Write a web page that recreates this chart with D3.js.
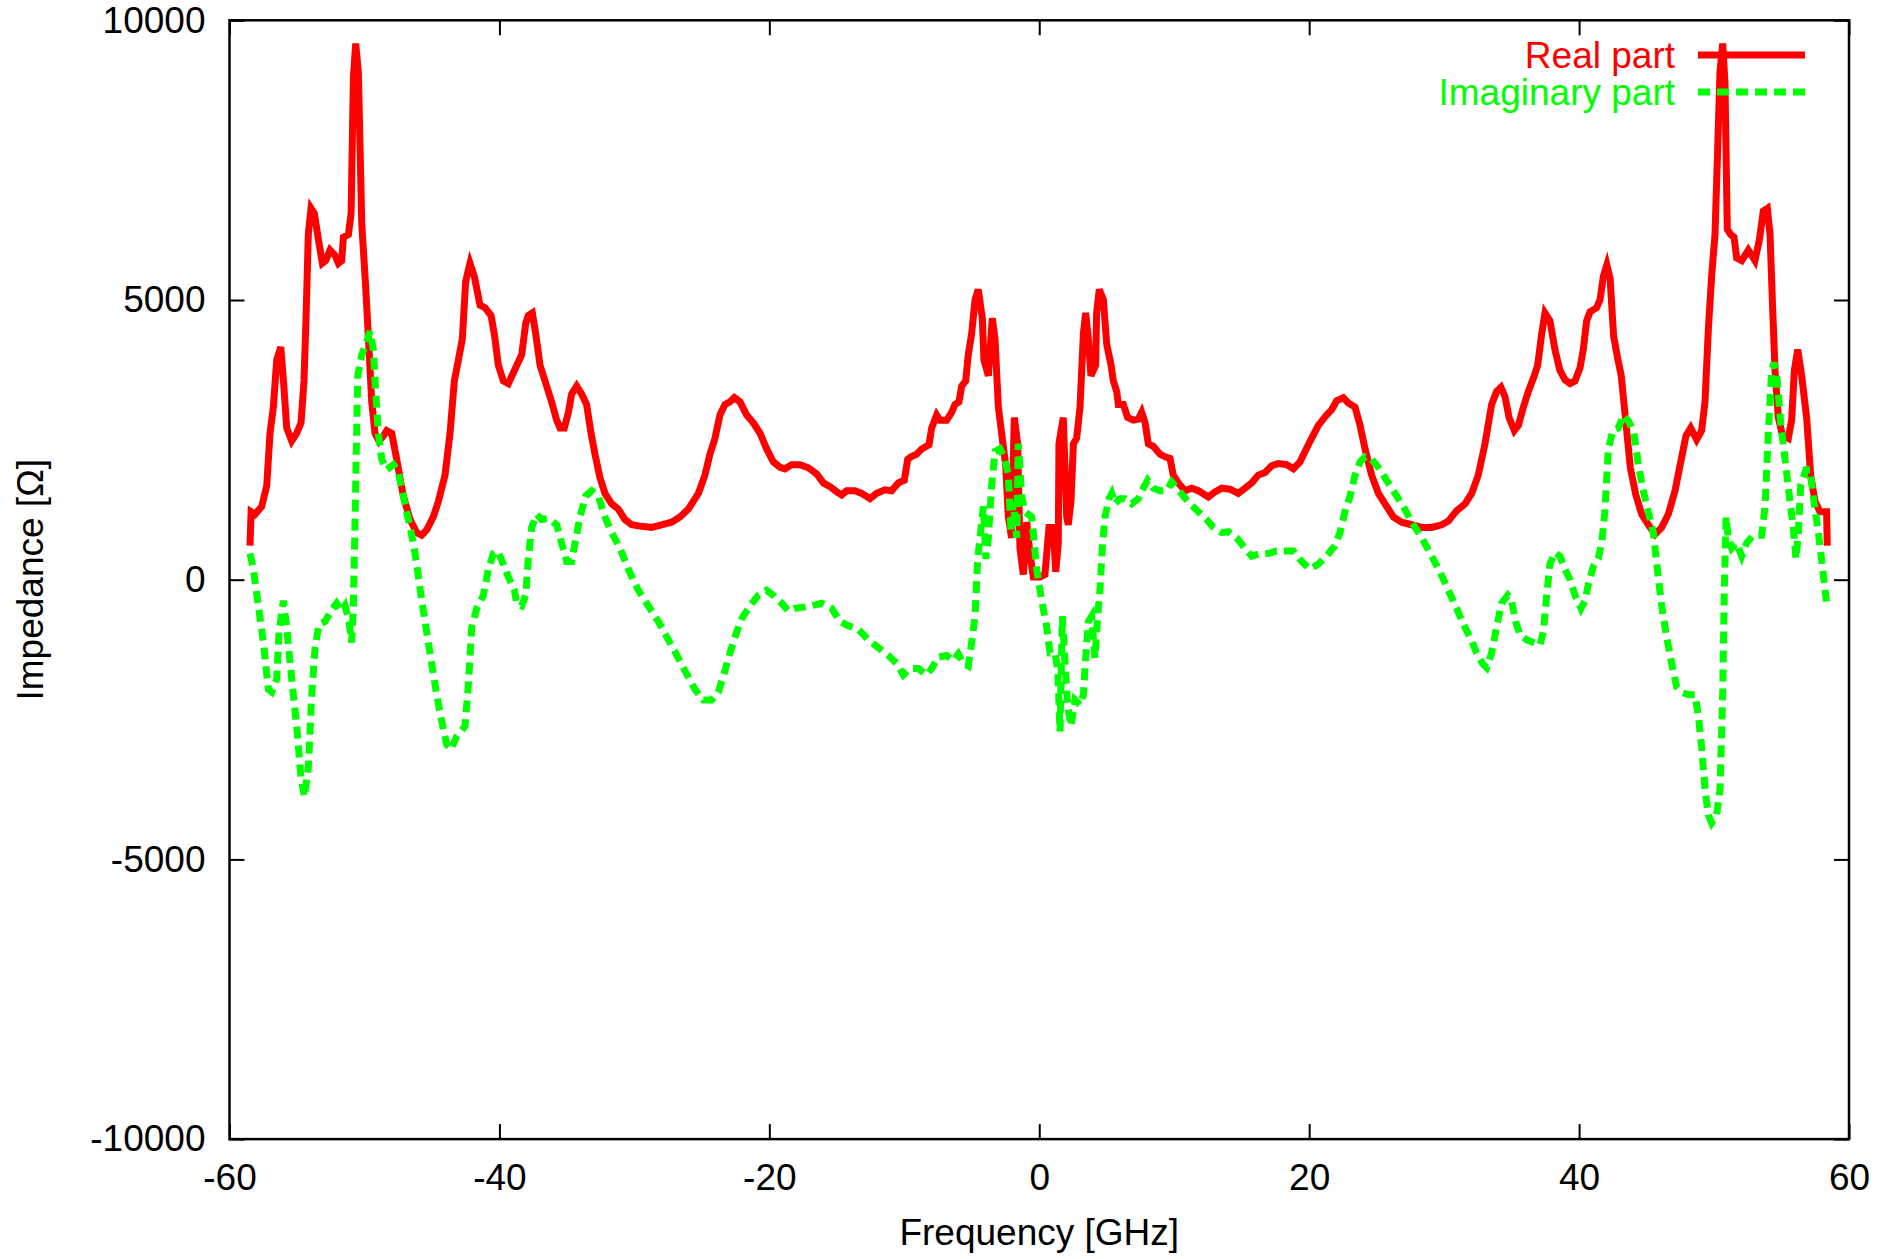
<!DOCTYPE html>
<html>
<head>
<meta charset="utf-8">
<script src="https://cdn.jsdelivr.net/npm/d3@7"></script>
<style>
  html, body { margin: 0; padding: 0; background: #fff; }
  svg text { font-family: "Liberation Sans", Arial, Helvetica, sans-serif; }
</style>
</head>
<body>
<svg id="chart" width="1896" height="1259"></svg>
<script>
// values: [frequency GHz, impedance Ohm]
var realPart = [
  [-58.48, 608], [-58.4, 1215], [-58.11, 1169], [-57.61, 1309], [-57.24, 1683], [-57.0, 2618],
  [-56.75, 3086], [-56.5, 3927], [-56.2, 4161], [-56.0, 3553], [-55.76, 2711], [-55.39, 2478],
  [-55.02, 2618], [-54.7, 2805], [-54.48, 3553], [-54.33, 4675], [-54.16, 6171], [-53.96, 6639],
  [-53.71, 6545], [-53.41, 6078], [-53.12, 5657], [-52.87, 5704], [-52.55, 5891], [-52.18, 5797],
  [-51.93, 5657], [-51.69, 5704], [-51.56, 6124], [-51.19, 6171], [-50.99, 6545], [-50.82, 8976],
  [-50.65, 9584], [-50.45, 9070], [-50.2, 6358], [-49.91, 5236], [-49.66, 4114], [-49.46, 3179],
  [-49.22, 2618], [-48.92, 2478], [-48.6, 2571], [-48.35, 2665], [-47.98, 2618], [-47.61, 2150],
  [-47.12, 1496], [-46.62, 1075], [-46.13, 842], [-45.76, 795], [-45.39, 888], [-44.9, 1122],
  [-44.52, 1403], [-44.03, 1870], [-43.66, 2618], [-43.34, 3553], [-43.04, 3927], [-42.75, 4301],
  [-42.5, 5330], [-42.18, 5657], [-41.86, 5423], [-41.44, 4909], [-41.07, 4862], [-40.62, 4722],
  [-40.38, 4395], [-40.08, 3834], [-39.71, 3553], [-39.34, 3506], [-38.89, 3740], [-38.35, 4021],
  [-38.05, 4582], [-37.86, 4722], [-37.56, 4769], [-37.31, 4395], [-36.99, 3834], [-36.62, 3553],
  [-36.13, 3179], [-35.76, 2852], [-35.51, 2712], [-35.19, 2712], [-34.89, 2992], [-34.65, 3319],
  [-34.28, 3460], [-33.91, 3319], [-33.54, 3132], [-33.21, 2618], [-32.92, 2244], [-32.55, 1823],
  [-32.18, 1543], [-31.68, 1356], [-31.19, 1262], [-30.7, 1075], [-30.2, 982], [-29.46, 954],
  [-28.72, 935], [-27.98, 982], [-27.24, 1028], [-26.62, 1122], [-26.0, 1262], [-25.26, 1543],
  [-24.77, 1870], [-24.4, 2244], [-24.03, 2525], [-23.66, 2945], [-23.29, 3132], [-22.92, 3179],
  [-22.59, 3254], [-22.17, 3179], [-21.68, 2945], [-21.19, 2805], [-20.69, 2618], [-20.2, 2338],
  [-19.7, 2104], [-19.21, 2010], [-18.84, 1982], [-18.35, 2057], [-17.73, 2057], [-17.11, 2001],
  [-16.49, 1889], [-16.0, 1730], [-15.5, 1664], [-15.01, 1571], [-14.64, 1515], [-14.27, 1590],
  [-13.65, 1590], [-13.16, 1543], [-12.54, 1449], [-12.05, 1543], [-11.43, 1608], [-10.94, 1590],
  [-10.44, 1730], [-10.0, 1777], [-9.75, 2150], [-9.5, 2197], [-9.08, 2244], [-8.71, 2338],
  [-8.17, 2412], [-7.97, 2712], [-7.6, 2945], [-7.36, 2852], [-6.86, 2852], [-6.49, 2992],
  [-6.25, 3132], [-5.95, 3179], [-5.75, 3460], [-5.45, 3553], [-5.26, 4021], [-5.01, 4395],
  [-4.76, 5002], [-4.52, 5189], [-4.22, 4675], [-4.1, 3927], [-3.77, 3646], [-3.48, 4675],
  [-3.28, 4301], [-3.03, 3085], [-2.74, 2525], [-2.49, 2057], [-2.29, 1122], [-2.05, 748],
  [-1.85, 2899], [-1.6, 2431], [-1.43, 561], [-1.18, 94], [-0.93, 1028], [-0.69, 468],
  [-0.44, 47], [0.05, 47], [0.42, 94], [0.72, 935], [1.04, 935], [1.22, 140], [1.41, 654],
  [1.46, 2431], [1.78, 2899], [2.03, 1122], [2.15, 982], [2.35, 1403], [2.53, 2431], [2.77, 2525],
  [3.02, 3085], [3.27, 4395], [3.44, 4769], [3.64, 4301], [3.83, 3646], [4.18, 3834], [4.25, 4769],
  [4.45, 5189], [4.75, 5002], [5.0, 4208], [5.32, 3834], [5.49, 3553], [5.74, 3366], [5.86, 3132],
  [6.23, 3132], [6.55, 2899], [6.97, 2852], [7.34, 2870], [7.59, 2992], [7.84, 2805], [8.08, 2431],
  [8.45, 2384], [8.95, 2244], [9.32, 2197], [9.69, 2169], [9.93, 1870], [10.31, 1730], [10.8, 1590],
  [11.29, 1636], [11.79, 1590], [12.53, 1477], [13.02, 1571], [13.52, 1636], [14.13, 1618],
  [14.75, 1543], [15.24, 1636], [15.74, 1730], [16.23, 1870], [16.73, 1917], [17.22, 2038],
  [17.71, 2076], [18.33, 2057], [18.83, 1982], [19.32, 2104], [19.69, 2291], [20.18, 2525],
  [20.68, 2758], [21.29, 2945], [21.67, 3039], [22.04, 3198], [22.53, 3254], [22.9, 3160],
  [23.4, 3085], [23.77, 2758], [24.14, 2338], [24.63, 1870], [25.13, 1543], [25.62, 1356],
  [26.24, 1122], [26.85, 1028], [27.6, 982], [28.34, 935], [29.08, 935], [29.82, 982], [30.31, 1047],
  [30.93, 1234], [31.55, 1356], [32.04, 1543], [32.53, 1870], [33.03, 2431], [33.52, 3132],
  [33.89, 3366], [34.21, 3441], [34.51, 3272], [34.81, 2899], [35.2, 2665], [35.5, 2758],
  [35.87, 3085], [36.24, 3366], [36.68, 3646], [36.93, 3834], [37.23, 4395], [37.47, 4769],
  [37.84, 4628], [38.21, 4114], [38.58, 3740], [38.96, 3572], [39.33, 3506], [39.7, 3553],
  [40.07, 3787], [40.31, 4114], [40.56, 4628], [40.81, 4787], [41.3, 4862], [41.55, 5002],
  [41.8, 5423], [42.06, 5629], [42.3, 5380], [42.56, 4350], [42.85, 3970], [43.12, 3650],
  [43.45, 2850], [43.8, 2000], [44.2, 1520], [44.64, 1169], [45.13, 982], [45.63, 813],
  [46.12, 935], [46.61, 1169], [47.11, 1590], [47.53, 2104], [47.92, 2571], [48.27, 2712],
  [48.71, 2506], [49.08, 2665], [49.33, 3179], [49.58, 4488], [49.82, 5423], [50.07, 6171],
  [50.24, 7480], [50.44, 9070], [50.64, 9584], [50.81, 8883], [50.98, 6265], [51.23, 6171],
  [51.48, 6124], [51.68, 5750], [52.05, 5704], [52.54, 5891], [53.03, 5704], [53.36, 6078],
  [53.65, 6592], [53.95, 6639], [54.15, 6171], [54.34, 4862], [54.52, 3740], [54.76, 2899],
  [55.08, 2571], [55.5, 2525], [55.75, 2852], [55.95, 3740], [56.2, 4114], [56.49, 3646],
  [56.86, 2899], [57.16, 1870], [57.48, 1403], [57.85, 1215], [58.34, 1215], [58.39, 608]
];

var imagPart = [
  [-58.48, 467], [-58.23, 187], [-57.86, -467], [-57.49, -1122], [-57.12, -1963], [-56.87, -2010],
  [-56.5, -1777], [-56.33, -935], [-56.01, -374], [-55.76, -841], [-55.51, -1496], [-55.27, -2057],
  [-55.02, -2618], [-54.7, -3553], [-54.45, -3880], [-54.16, -3366], [-53.91, -2057], [-53.66, -1215],
  [-53.37, -795], [-52.92, -748], [-52.48, -561], [-52.06, -421], [-51.69, -561], [-51.44, -467],
  [-51.14, -748], [-50.95, -1122], [-50.82, -467], [-50.65, 1683], [-50.5, 3646], [-50.2, 4021],
  [-49.83, 4254], [-49.59, 4441], [-49.34, 4114], [-49.17, 3366], [-48.97, 2618], [-48.72, 2150],
  [-48.35, 1964], [-47.86, 2057], [-47.49, 1917], [-47.12, 1496], [-46.7, 1028], [-46.38, 654],
  [-46.13, 280], [-45.76, -374], [-45.39, -935], [-45.02, -1496], [-44.65, -2057], [-44.28, -2524],
  [-43.91, -2945], [-43.59, -3039], [-43.17, -2805], [-42.55, -2618], [-42.3, -1870], [-42.05, -841],
  [-41.68, -514], [-41.19, -280], [-40.82, 187], [-40.45, 467], [-40.13, 514], [-39.71, 280],
  [-39.34, 47], [-38.89, -187], [-38.72, -421], [-38.35, -467], [-38.05, -280], [-37.86, 374],
  [-37.61, 935], [-37.24, 1169], [-36.87, 1075], [-36.38, 1094], [-35.76, 982], [-35.39, 654],
  [-35.02, 327], [-34.65, 327], [-34.4, 654], [-34.03, 1122], [-33.61, 1496], [-33.16, 1589],
  [-32.67, 1496], [-32.18, 1122], [-31.68, 841], [-31.06, 561], [-30.45, 187], [-29.71, -187],
  [-28.97, -467], [-28.22, -748], [-27.48, -1075], [-26.74, -1402], [-26.13, -1683], [-25.51, -1963],
  [-24.89, -2150], [-24.27, -2150], [-23.78, -2010], [-23.41, -1730], [-22.92, -1309], [-22.42, -935],
  [-22.05, -701], [-21.43, -467], [-20.82, -280], [-20.2, -187], [-19.7, -280], [-19.09, -421],
  [-18.59, -561], [-18.15, -514], [-17.36, -486], [-16.62, -449], [-16.12, -421], [-15.38, -514],
  [-14.76, -748], [-14.15, -823], [-13.41, -888], [-12.66, -1075], [-11.92, -1215], [-11.18, -1356],
  [-10.57, -1496], [-10.07, -1702], [-9.58, -1589], [-8.96, -1589], [-8.34, -1702], [-7.97, -1589],
  [-7.48, -1384], [-6.86, -1356], [-6.37, -1449], [-6.0, -1328], [-5.63, -1496], [-5.26, -1543],
  [-5.01, -1122], [-4.76, -654], [-4.56, 374], [-4.39, 748], [-4.14, 1309], [-3.95, 374],
  [-3.77, 748], [-3.53, 1683], [-3.28, 2291], [-2.91, 2338], [-2.54, 2150], [-2.29, 1870],
  [-2.09, 841], [-1.92, 1402], [-1.67, 748], [-1.55, 2431], [-1.3, 1496], [-1.06, 1215],
  [-0.56, 1122], [-0.19, 187], [0.18, -374], [0.55, -841], [0.8, -1309], [1.17, -1309],
  [1.36, -1589], [1.54, -2711], [1.71, -654], [1.91, -1496], [2.1, -2244], [2.35, -2618],
  [2.5, -2400], [2.65, -2150], [3.02, -2244], [3.27, -2057], [3.44, -1402], [3.64, -748],
  [3.88, -654], [4.13, -1402], [4.33, -654], [4.5, -187], [4.67, 561], [4.87, 1122], [5.17, 1449],
  [5.37, 1543], [5.61, 1356], [5.98, 1449], [6.35, 1449], [6.85, 1356], [7.34, 1449], [7.71, 1636],
  [8.03, 1776], [8.45, 1636], [8.95, 1589], [9.44, 1589], [9.81, 1748], [10.18, 1636], [10.68, 1496],
  [11.17, 1356], [11.79, 1215], [12.4, 1075], [12.9, 935], [13.52, 841], [14.01, 860], [14.63, 748],
  [15.24, 561], [15.74, 421], [16.36, 467], [16.97, 467], [17.59, 514], [18.21, 514], [18.83, 514],
  [19.44, 327], [20.06, 187], [20.68, 280], [21.29, 421], [21.91, 608], [22.28, 841], [22.65, 1215],
  [23.03, 1496], [23.4, 1870], [23.77, 2104], [24.14, 2197], [24.63, 2150], [25.12, 2010],
  [25.74, 1776], [26.36, 1543], [26.98, 1309], [27.6, 1028], [28.34, 748], [29.08, 421], [29.69, 140],
  [30.31, -187], [30.93, -514], [31.42, -795], [31.92, -1028], [32.41, -1309], [32.83, -1496],
  [33.15, -1571], [33.52, -1309], [33.89, -841], [34.26, -421], [34.71, -280], [35.0, -374],
  [35.3, -748], [35.62, -982], [36.12, -1075], [36.61, -1122], [37.1, -1168], [37.35, -935],
  [37.6, -280], [37.84, 280], [38.21, 486], [38.58, 421], [38.96, 187], [39.33, 0], [39.7, -280],
  [40.14, -514], [40.44, -374], [40.68, -93], [41.05, 234], [41.42, 374], [41.7, 700], [41.9, 1200],
  [42.17, 2338], [42.5, 2665], [42.91, 2711], [43.3, 2945], [43.7, 2820], [44.05, 2640], [44.39, 2057],
  [44.76, 1589], [45.13, 1215], [45.5, 841], [45.8, 187], [46.12, -467], [46.49, -1028],
  [46.86, -1496], [47.23, -1916], [47.6, -2010], [48.1, -2057], [48.59, -2057], [48.84, -2431],
  [49.08, -2992], [49.33, -3740], [49.58, -4207], [49.82, -4347], [50.19, -4207], [50.44, -3740],
  [50.64, -2057], [50.76, -187], [50.89, 1122], [51.06, 748], [51.31, 561], [51.68, 654], [52.05, 421],
  [52.42, 654], [52.91, 795], [53.53, 795], [53.78, 1309], [54.02, 2618], [54.27, 3740], [54.44, 3880],
  [54.69, 3553], [54.94, 2805], [55.26, 2150], [55.58, 1496], [55.87, 935], [56.07, 374], [56.25, 841],
  [56.42, 1683], [56.81, 1964], [57.11, 1964], [57.4, 1402], [57.73, 841], [58.05, 187], [58.34, -421]
];

var xTicks = [-60, -40, -20, 0, 20, 40, 60];
var yTicks = [-10000, -5000, 0, 5000, 10000];
var seriesNames = ["Real part", "Imaginary part"];
var seriesColors = ["#ff0000", "#00ff00"];

var svg = d3.select("#chart");

// plot frame in page pixels
var plotLeft = 229.5, plotRight = 1849, plotTop = 20.3, plotBottom = 1139.1;

var x = d3.scaleLinear().domain([-60, 60]).range([plotLeft, plotRight]);
var y = d3.scaleLinear().domain([-10000, 10000]).range([plotBottom, plotTop]);

var fmt = function(d) { return String(d); };

function styleAxis(g) {
  g.select(".domain").remove();
  g.selectAll(".tick line").attr("stroke", "#000").attr("stroke-width", 2);
  g.selectAll(".tick text")
      .attr("fill", "#000")
      .style("font-size", "37px")
      .style("font-family", '"Liberation Sans", Arial, sans-serif');
}

svg.append("g")
    .attr("transform", "translate(0," + plotBottom + ")")
    .call(d3.axisBottom(x).tickValues(xTicks).tickFormat(fmt).tickSize(-15).tickPadding(25))
    .call(styleAxis);

svg.append("g")
    .attr("transform", "translate(0," + plotTop + ")")
    .call(d3.axisTop(x).tickValues(xTicks).tickFormat("").tickSize(-15))
    .call(styleAxis);

svg.append("g")
    .attr("transform", "translate(" + plotLeft + ",0)")
    .call(d3.axisLeft(y).tickValues(yTicks).tickFormat(fmt).tickSize(-15).tickPadding(24))
    .call(styleAxis);

svg.append("g")
    .attr("transform", "translate(" + plotRight + ",0)")
    .call(d3.axisRight(y).tickValues(yTicks).tickFormat("").tickSize(-15))
    .call(styleAxis);

// border
svg.append("rect")
    .attr("x", plotLeft)
    .attr("y", plotTop)
    .attr("width", plotRight - plotLeft)
    .attr("height", plotBottom - plotTop)
    .attr("fill", "none")
    .attr("stroke", "#000")
    .attr("stroke-width", 2.5);

// axis titles
svg.append("text")
    .attr("x", (plotLeft + plotRight) / 2)
    .attr("y", 1245)
    .attr("text-anchor", "middle")
    .style("font-size", "37px")
    .text("Frequency [GHz]");

svg.append("text")
    .attr("transform", "translate(43," + (plotTop + plotBottom) / 2 + ") rotate(-90)")
    .attr("text-anchor", "middle")
    .style("font-size", "37px")
    .text("Impedance [Ω]");

var line = d3.line()
    .x(function(d) { return x(d[0]); })
    .y(function(d) { return y(d[1]); });

svg.append("path")
    .datum(realPart)
    .attr("d", line)
    .attr("fill", "none")
    .attr("stroke", seriesColors[0])
    .attr("stroke-width", 7)
    .attr("stroke-linejoin", "miter");

svg.append("path")
    .datum(imagPart)
    .attr("d", line)
    .attr("fill", "none")
    .attr("stroke", seriesColors[1])
    .attr("stroke-width", 7)
    .attr("stroke-dasharray", "12,7")
    .attr("stroke-linejoin", "miter");

// legend, top right
var legend = svg.append("g");
seriesNames.forEach(function(name, i) {
  var ly = 55 + i * 37;
  legend.append("text")
      .attr("x", 1675)
      .attr("y", ly + 13)
      .attr("text-anchor", "end")
      .attr("fill", seriesColors[i])
      .style("font-size", "37px")
      .text(name);
  legend.append("line")
      .attr("x1", 1698).attr("x2", 1805)
      .attr("y1", ly).attr("y2", ly)
      .attr("stroke", seriesColors[i])
      .attr("stroke-width", 7)
      .attr("stroke-dasharray", i === 1 ? "12,7" : null);
});
</script>
</body>
</html>
